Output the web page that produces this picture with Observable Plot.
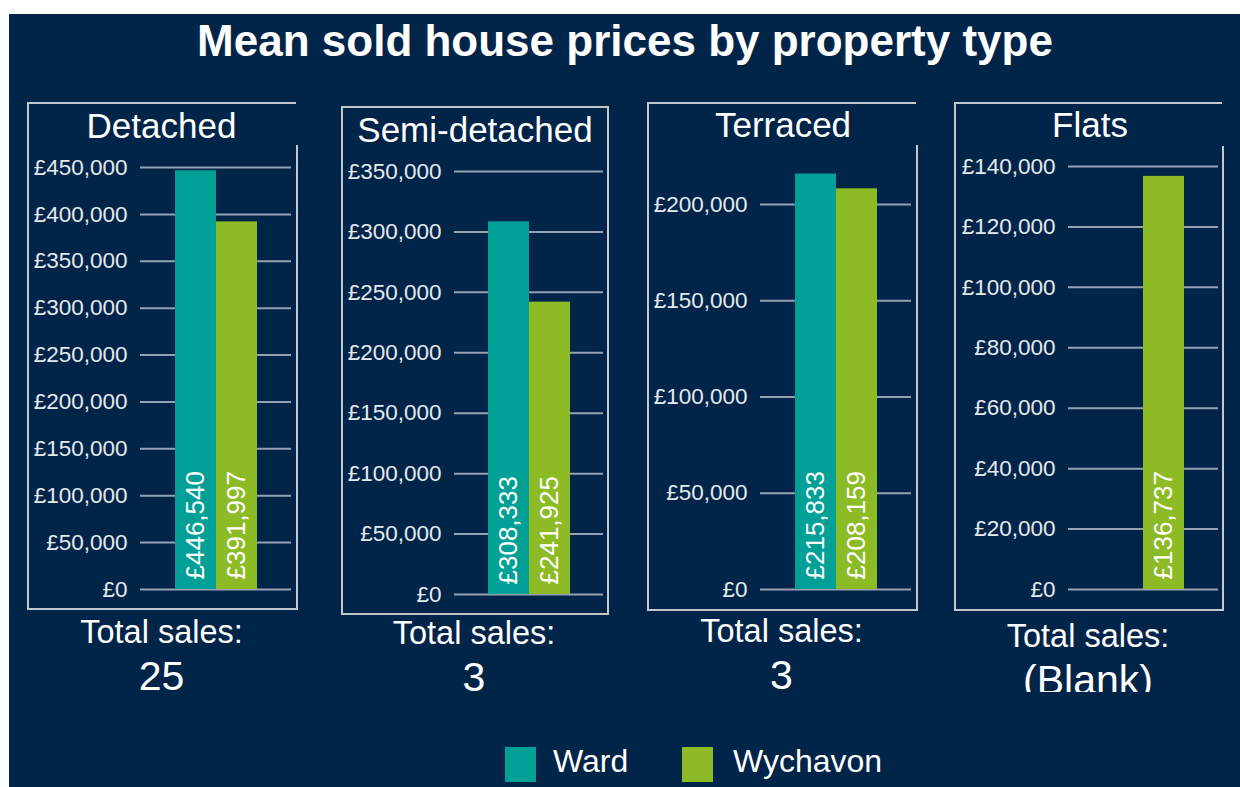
<!DOCTYPE html>
<html><head><meta charset="utf-8">
<script src="https://cdn.jsdelivr.net/npm/d3@7"></script>
<script src="https://cdn.jsdelivr.net/npm/@observablehq/plot@0.6"></script>
<style>
html,body{margin:0;padding:0;background:#fff;}
#page{position:relative;width:1240px;height:787px;overflow:hidden;font-family:"Liberation Sans",Arial,sans-serif;}
#bg{position:absolute;left:9px;top:14px;width:1231px;height:773px;background:#012449;}
.t{position:absolute;white-space:nowrap;color:#fff;line-height:1;transform:translate(-50%,-50%);}
.ln{position:absolute;background:#c3c8d0;}
.plot{position:absolute;}
.clip{position:absolute;overflow:hidden;}
.sw{position:absolute;}
.lt{position:absolute;color:#fff;font-size:32px;line-height:1;white-space:nowrap;transform:translateY(-50%);}
</style></head><body><div id="page"><div id="bg"></div></div>
<script>
// ---- data ----
const chartTitle = "Mean sold house prices by property type";
const propertyTypes = ["Detached", "Semi-detached", "Terraced", "Flats"];
const seriesNames = ["Ward", "Wychavon"];
const seriesColors = ["#00a096", "#8cbb26"];
const wardPrices = [446540, 308333, 215833, null];
const wychavonPrices = [391997, 241925, 208159, 136737];
const totalSalesLabel = "Total sales:";
const totalSales = ["25", "3", "3", "(Blank)"];
const yTickMax = [450000, 350000, 200000, 140000];
const yTickStep = [50000, 50000, 50000, 20000];

// ---- layout (page pixels) ----
const panels = [
  {l:27,  t:102, r:296,  b:608, rt:145, gl:140,  gr:291,  y0:589, yTop:167, tx:161.5, ty:125,   sy:632, ny:676, clipB:700},
  {l:341, t:106, r:607,  b:613, rt:106, gl:454,  gr:603,  y0:594, yTop:171, tx:475,   ty:128.5, sy:633, ny:677, clipB:700},
  {l:647, t:102, r:916,  b:609, rt:145, gl:760,  gr:911,  y0:589, yTop:204, tx:783,   ty:124,   sy:631, ny:675, clipB:700},
  {l:954, t:102, r:1222, b:609, rt:146, gl:1068, gr:1218, y0:589, yTop:166, tx:1090,  ty:124,   sy:636, ny:680, clipB:692}
];

const page = document.getElementById("page");
function text(str, cx, cy, size, weight) {
  const d = document.createElement("div");
  d.className = "t";
  d.textContent = str;
  d.style.left = cx + "px";
  d.style.top = cy + "px";
  d.style.fontSize = size + "px";
  if (weight) d.style.fontWeight = weight;
  page.appendChild(d);
  return d;
}
function line(x, y, w, h) {
  const d = document.createElement("div");
  d.className = "ln";
  Object.assign(d.style, {left: x + "px", top: y + "px", width: w + "px", height: h + "px"});
  page.appendChild(d);
}

text(chartTitle, 625, 41, 44, "bold");

const money = v => "£" + d3.format(",")(v);
const bw = 1.5;

propertyTypes.forEach((type, i) => {
  const p = panels[i];
  // box
  line(p.l, p.t, p.r - p.l, bw);
  line(p.l, p.t, bw, p.b - p.t);
  line(p.l, p.b, p.r - p.l + bw, bw);
  line(p.r, p.rt, bw, p.b - p.rt);

  text(type, p.tx, p.ty, 35);
  text(totalSalesLabel, (p.l + p.r) / 2, p.sy, 32.5);

  // number card (the reference's card area cuts the last one off at its bottom)
  const clipTop = 650;
  const clip = document.createElement("div");
  clip.className = "clip";
  Object.assign(clip.style, {left: p.l + "px", top: clipTop + "px", width: (p.r - p.l) + "px", height: (p.clipB - clipTop) + "px"});
  const n = document.createElement("div");
  n.className = "t";
  n.textContent = totalSales[i];
  Object.assign(n.style, {left: ((p.r - p.l) / 2) + "px", top: (p.ny - clipTop) + "px", fontSize: "41px"});
  clip.appendChild(n);
  page.appendChild(clip);

  const data = [
    {series: seriesNames[0], value: wardPrices[i]},
    {series: seriesNames[1], value: wychavonPrices[i]}
  ].filter(d => d.value != null);

  const svgLeft = p.l + 3, svgTop = 140;
  const width = p.r - p.l - 5;
  const height = p.y0 - svgTop + 14;
  const ticks = d3.range(0, yTickMax[i] + yTickStep[i] / 2, yTickStep[i]);

  const chart = Plot.plot({
    width, height,
    marginLeft: p.gl - svgLeft,
    marginRight: svgLeft + width - p.gr,
    marginTop: p.yTop - svgTop,
    marginBottom: 14,
    style: {background: "transparent", color: "#e6e9ee", fontFamily: "'Liberation Sans', Arial, sans-serif", fontSize: "22px", overflow: "visible"},
    x: {domain: seriesNames, paddingInner: 0, paddingOuter: 0.8, axis: null},
    y: {domain: [0, yTickMax[i]], label: null},
    color: {domain: seriesNames, range: seriesColors},
    marks: [
      Plot.gridY(ticks, {stroke: "#96a1b4", strokeOpacity: 1, strokeWidth: 2}),
      Plot.axisY(ticks, {tickFormat: money, tickSize: 0, tickPadding: 13, fontSize: 22.5, label: null}),
      Plot.barY(data, {x: "series", y: "value", fill: "series"}),
      Plot.text(data, {x: "series", y: 0, text: d => money(d.value), rotate: -90, textAnchor: "start", lineAnchor: "middle", dy: -10, fill: "#ffffff", fontSize: 26})
    ]
  });
  chart.classList.add("plot");
  chart.style.left = svgLeft + "px";
  chart.style.top = svgTop + "px";
  page.appendChild(chart);
});

// legend
const legendPos = [{sx:505, tx:553}, {sx:682, tx:733}];
seriesNames.forEach((name, i) => {
  const s = document.createElement("div");
  s.className = "sw";
  Object.assign(s.style, {left: legendPos[i].sx + "px", top: "747px", width: "31px", height: "35px", background: seriesColors[i]});
  page.appendChild(s);
  const t = document.createElement("div");
  t.className = "lt";
  t.textContent = name;
  Object.assign(t.style, {left: legendPos[i].tx + "px", top: "761px"});
  page.appendChild(t);
});
</script></body></html>
